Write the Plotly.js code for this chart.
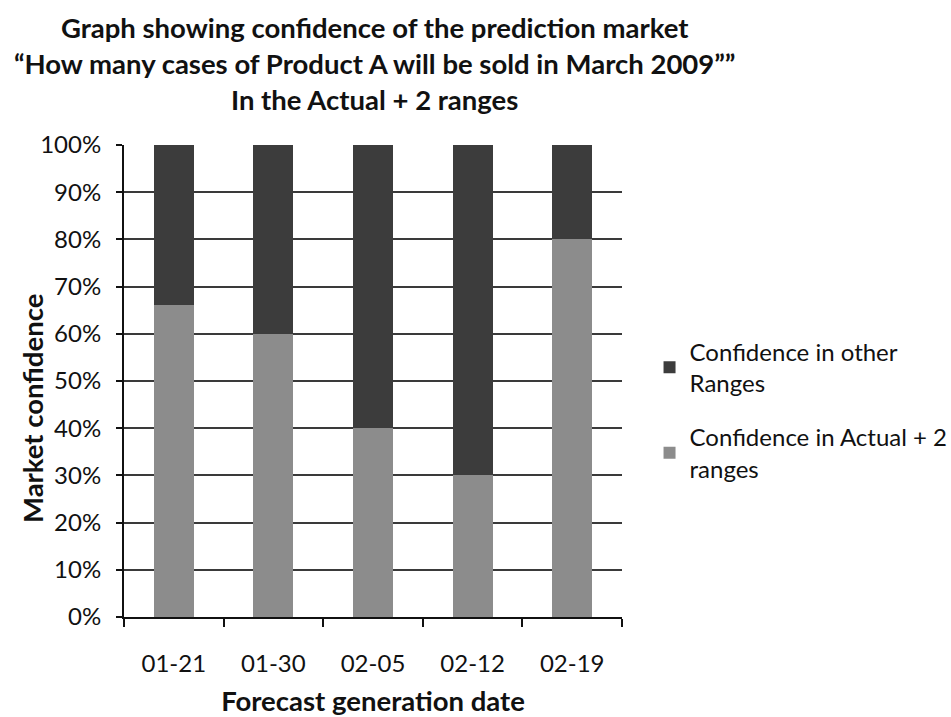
<!DOCTYPE html>
<html>
<head>
<meta charset="utf-8">
<script src="https://cdn.plot.ly/plotly-3.0.1.min.js"></script>
<style>
  html, body { margin: 0; padding: 0; background: #fff; }
  #chart { width: 951px; height: 717px; }
</style>
</head>
<body>
<div id="chart"></div>
<script>
// Forecast dates and market confidence shares (fractions of 1)
const dates = ['01-21', '01-30', '02-05', '02-12', '02-19'];
const actualPlus2 = [0.66, 0.60, 0.40, 0.30, 0.80];
const otherRanges = [0.34, 0.40, 0.60, 0.70, 0.20];

const seriesNames = ['Confidence in Actual + 2<br>ranges', 'Confidence in other<br>Ranges'];
const yTitle = 'Market confidence';

const bodyFont = 'Lato, "Open Sans", sans-serif';
const ink = '#111111';

// Bottom segment first in the stack; legend lists the top segment first
const traces = [
  {
    type: 'bar',
    name: seriesNames[0],
    legendgroup: 'actual',
    legendrank: 2,
    x: dates,
    y: actualPlus2,
    marker: { color: '#8c8c8c', line: { width: 0 } }
  },
  {
    type: 'bar',
    name: seriesNames[1],
    legendgroup: 'other',
    legendrank: 1,
    x: dates,
    y: otherRanges,
    marker: { color: '#3c3c3c', line: { width: 0 } }
  }
];

const layout = {
  width: 951,
  height: 717,
  paper_bgcolor: '#ffffff',
  plot_bgcolor: '#ffffff',
  barmode: 'stack',
  bargap: 0.6,
  margin: { l: 124, r: 329, t: 145, b: 100, pad: 0 },
  font: { family: bodyFont, size: 24, color: ink },
  title: {
    text: 'Graph showing confidence of the prediction market<br>\u201cHow many cases of Product A will be sold in March 2009\u201d\u201d<br>In the Actual + 2 ranges',
    font: { family: bodyFont, size: 27.5, color: ink, weight: 'bold' },
    xref: 'container',
    x: 0.394,
    xanchor: 'center',
    yref: 'container',
    y: 0.947,
    yanchor: 'top'
  },
  xaxis: {
    type: 'category',
    automargin: false,
    showline: true,
    linecolor: ink,
    linewidth: 2,
    ticks: 'outside',
    tickson: 'boundaries',
    ticklen: 8,
    tickwidth: 2,
    tickcolor: ink,
    ticklabelstandoff: 24,
    showgrid: false,
    tickfont: { family: bodyFont, size: 24, color: ink },
    title: {
      text: 'Forecast generation date',
      font: { family: bodyFont, size: 27.5, color: ink, weight: 'bold' },
      standoff: 16
    }
  },
  yaxis: {
    range: [0, 1],
    dtick: 0.1,
    tickformat: '.0%',
    automargin: false,
    showline: true,
    linecolor: ink,
    linewidth: 2,
    ticks: 'outside',
    ticklen: 6,
    tickwidth: 2,
    tickcolor: ink,
    ticklabelstandoff: 10,
    showgrid: true,
    gridcolor: '#3a3a3a',
    gridwidth: 2,
    zeroline: false,
    tickfont: { family: bodyFont, size: 24, color: ink }
  },
  // Vertical y-axis title, placed close to the tick labels
  annotations: [
    {
      text: yTitle,
      textangle: -90,
      font: { family: bodyFont, size: 27.5, color: ink, weight: 'bold' },
      xref: 'paper',
      x: -0.1827,
      xanchor: 'center',
      yref: 'paper',
      y: 0.4407,
      yanchor: 'middle',
      showarrow: false
    }
  ],
  legend: {
    traceorder: 'grouped',
    xref: 'container',
    yref: 'container',
    x: 0.683,
    xanchor: 'left',
    y: 0.428,
    yanchor: 'middle',
    font: { family: bodyFont, size: 24, color: ink },
    itemwidth: 30,
    tracegroupgap: 20,
    bgcolor: 'rgba(0,0,0,0)'
  },
  showlegend: true
};

Plotly.newPlot('chart', traces, layout, { displayModeBar: false, staticPlot: true });
</script>
</body>
</html>
